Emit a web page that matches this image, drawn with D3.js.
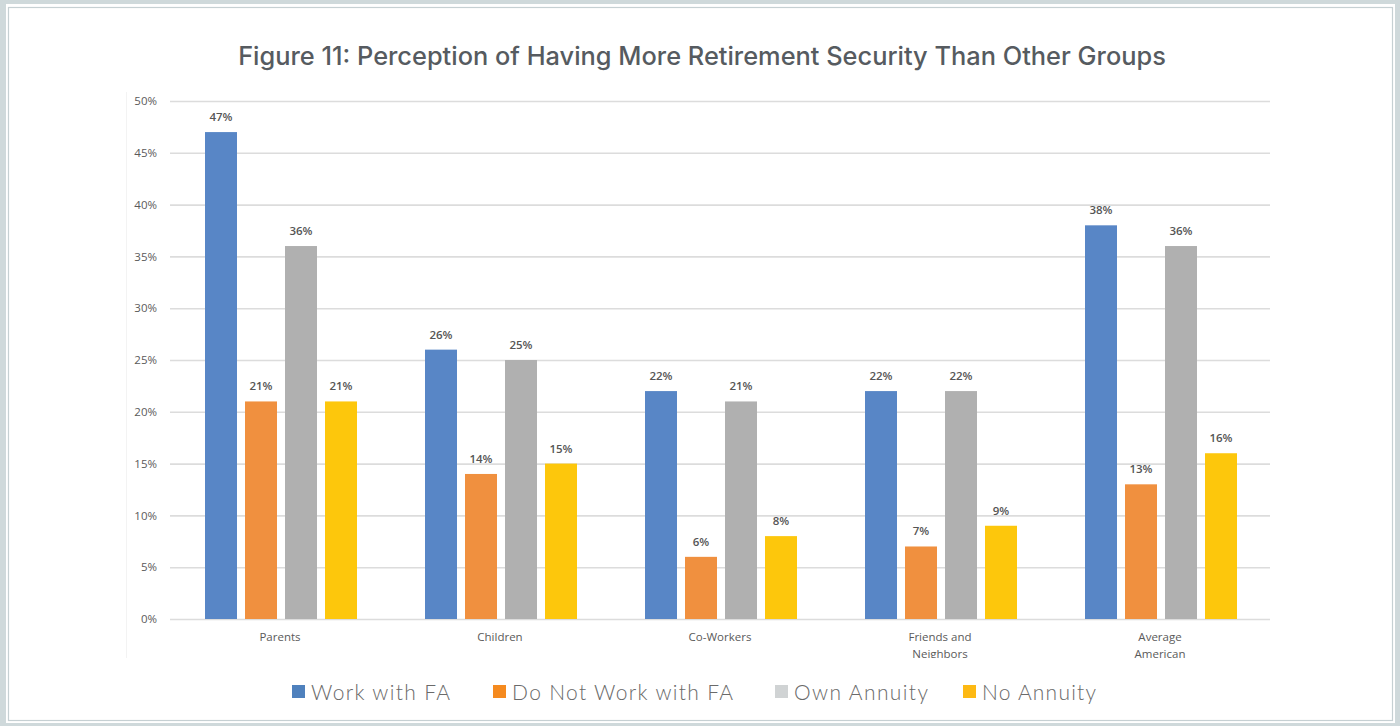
<!DOCTYPE html>
<html>
<head>
<meta charset="utf-8">
<script src="https://cdn.jsdelivr.net/npm/d3@7"></script>
<style>
  html, body { margin: 0; padding: 0; background: #cfd9db; }
  svg { display: block; }
</style>
</head>
<body>
<svg id="chart" width="1400" height="726"></svg>
<script>
// Survey results: share who feel more secure in retirement than each group
const categories = ["Parents", "Children", "Co-Workers", "Friends and Neighbors", "Average American"];
const categoryLines = [["Parents"], ["Children"], ["Co-Workers"], ["Friends and", "Neighbors"], ["Average", "American"]];
const seriesNames = ["Work with FA", "Do Not Work with FA", "Own Annuity", "No Annuity"];
const workWithFA    = [47, 26, 22, 22, 38];
const notWorkWithFA = [21, 14, 6, 7, 13];
const ownAnnuity    = [36, 25, 21, 22, 36];
const noAnnuity     = [21, 15, 8, 9, 16];
const yTicks = [0, 5, 10, 15, 20, 25, 30, 35, 40, 45, 50];
const title = "Figure 11: Perception of Having More Retirement Security Than Other Groups";

const barColors = ["#5886c6", "#f0903f", "#b0b0b0", "#fdc70c"];
const legendColors = ["#4f81bd", "#f58a1f", "#d0d3d4", "#fdb913"];
const seriesValues = [workWithFA, notWorkWithFA, ownAnnuity, noAnnuity];

const svg = d3.select("#chart");

// Page frame
svg.append("rect").attr("x", 6).attr("y", 4).attr("width", 1389).attr("height", 719).attr("fill", "#ffffff");
svg.append("rect").attr("x", 8.5).attr("y", 7.5).attr("width", 1384).attr("height", 713)
  .attr("fill", "none").attr("stroke", "#c6d0d3").attr("stroke-width", 1.2);

// Title, sized to span its line
const titleText = svg.append("text")
  .attr("x", 702).attr("y", 65)
  .attr("text-anchor", "middle")
  .attr("font-family", "Inter, 'Open Sans', sans-serif")
  .attr("font-size", 22)
  .attr("font-weight", 500)
  .attr("fill", "#565b60")
  .text(title);
const tw = titleText.node().getComputedTextLength();
titleText.attr("font-size", 22 * 928 / tw);

// Scales
const x0 = d3.scaleBand().domain(categories).range([170, 1270]).paddingInner(0).paddingOuter(0);
const x1 = d3.scaleBand().domain(seriesNames).range([35, 187]).paddingInner(0.2).paddingOuter(0);
const y = d3.scaleLinear().domain([0, 50]).range([619, 101]);

// Faint plot-area edge
svg.append("line").attr("x1", 126.5).attr("x2", 126.5).attr("y1", 92).attr("y2", 658)
  .attr("stroke", "#f3f3f3").attr("stroke-width", 1);

// Gridlines and y labels via axis
const yAxis = d3.axisLeft(y).tickValues(yTicks).tickFormat(d => d + "%").tickSize(-1100).tickPadding(13);
const gy = svg.append("g").attr("transform", "translate(170,0)").call(yAxis);
gy.select(".domain").remove();
gy.selectAll(".tick line").attr("stroke", "#dcdcdc").attr("stroke-width", 1.6);
gy.selectAll(".tick text")
  .attr("font-family", "'Open Sans', 'Liberation Sans', sans-serif")
  .attr("font-size", 11.5)
  .attr("fill", "#5a5a5a");

// Bars
const groups = svg.append("g").selectAll("g")
  .data(categories)
  .join("g")
  .attr("transform", d => `translate(${x0(d)},0)`);

groups.each(function(cat, ci) {
  const g = d3.select(this);
  const rows = seriesNames.map((s, si) => ({ s, si, v: seriesValues[si][ci] }));
  g.selectAll("rect").data(rows).join("rect")
    .attr("x", d => x1(d.s))
    .attr("y", d => y(d.v))
    .attr("width", x1.bandwidth())
    .attr("height", d => y(0) - y(d.v))
    .attr("fill", d => barColors[d.si]);
  g.selectAll("text.val").data(rows).join("text")
    .attr("class", "val")
    .attr("x", d => x1(d.s) + x1.bandwidth() / 2)
    .attr("y", d => y(d.v) - 11)
    .attr("text-anchor", "middle")
    .attr("font-family", "'Open Sans', 'Liberation Sans', sans-serif")
    .attr("font-size", 11.5)
    .attr("font-weight", 600)
    .attr("fill", "#555555")
    .text(d => d.v + "%");
});

// Category labels, clipped at the chart area bottom
svg.append("clipPath").attr("id", "plotClip")
  .append("rect").attr("x", 120).attr("y", 90).attr("width", 1180).attr("height", 568);
const catG = svg.append("g").attr("clip-path", "url(#plotClip)");
categories.forEach((c, i) => {
  const t = catG.append("text")
    .attr("x", x0(c) + x0.bandwidth() / 2)
    .attr("y", 641)
    .attr("text-anchor", "middle")
    .attr("font-family", "'Open Sans', 'Liberation Sans', sans-serif")
    .attr("font-size", 11.5)
    .attr("fill", "#5a5a5a");
  categoryLines[i].forEach((line, li) => {
    t.append("tspan").attr("x", x0(c) + x0.bandwidth() / 2).attr("dy", li === 0 ? 0 : 17).text(line);
  });
});

// Legend
const legend = svg.append("g");
const legendFont = "'Lato', 'Open Sans', sans-serif";
const legendStarts = [292, 493, 775, 963];
const legendTextWidths = [139, 221, 134, 114];
seriesNames.forEach((s, i) => {
  const item = legend.append("g").attr("transform", `translate(${legendStarts[i]},692)`);
  item.append("rect").attr("x", 0).attr("y", -7).attr("width", 13).attr("height", 13).attr("fill", legendColors[i]);
  item.append("text").attr("x", 19).attr("y", 7.5)
    .attr("font-family", legendFont).attr("font-size", 21).attr("font-weight", 300)
    .attr("fill", "#6a6a6a")
    .attr("textLength", legendTextWidths[i]).attr("lengthAdjust", "spacing")
    .text(s);
});
</script>
</body>
</html>
